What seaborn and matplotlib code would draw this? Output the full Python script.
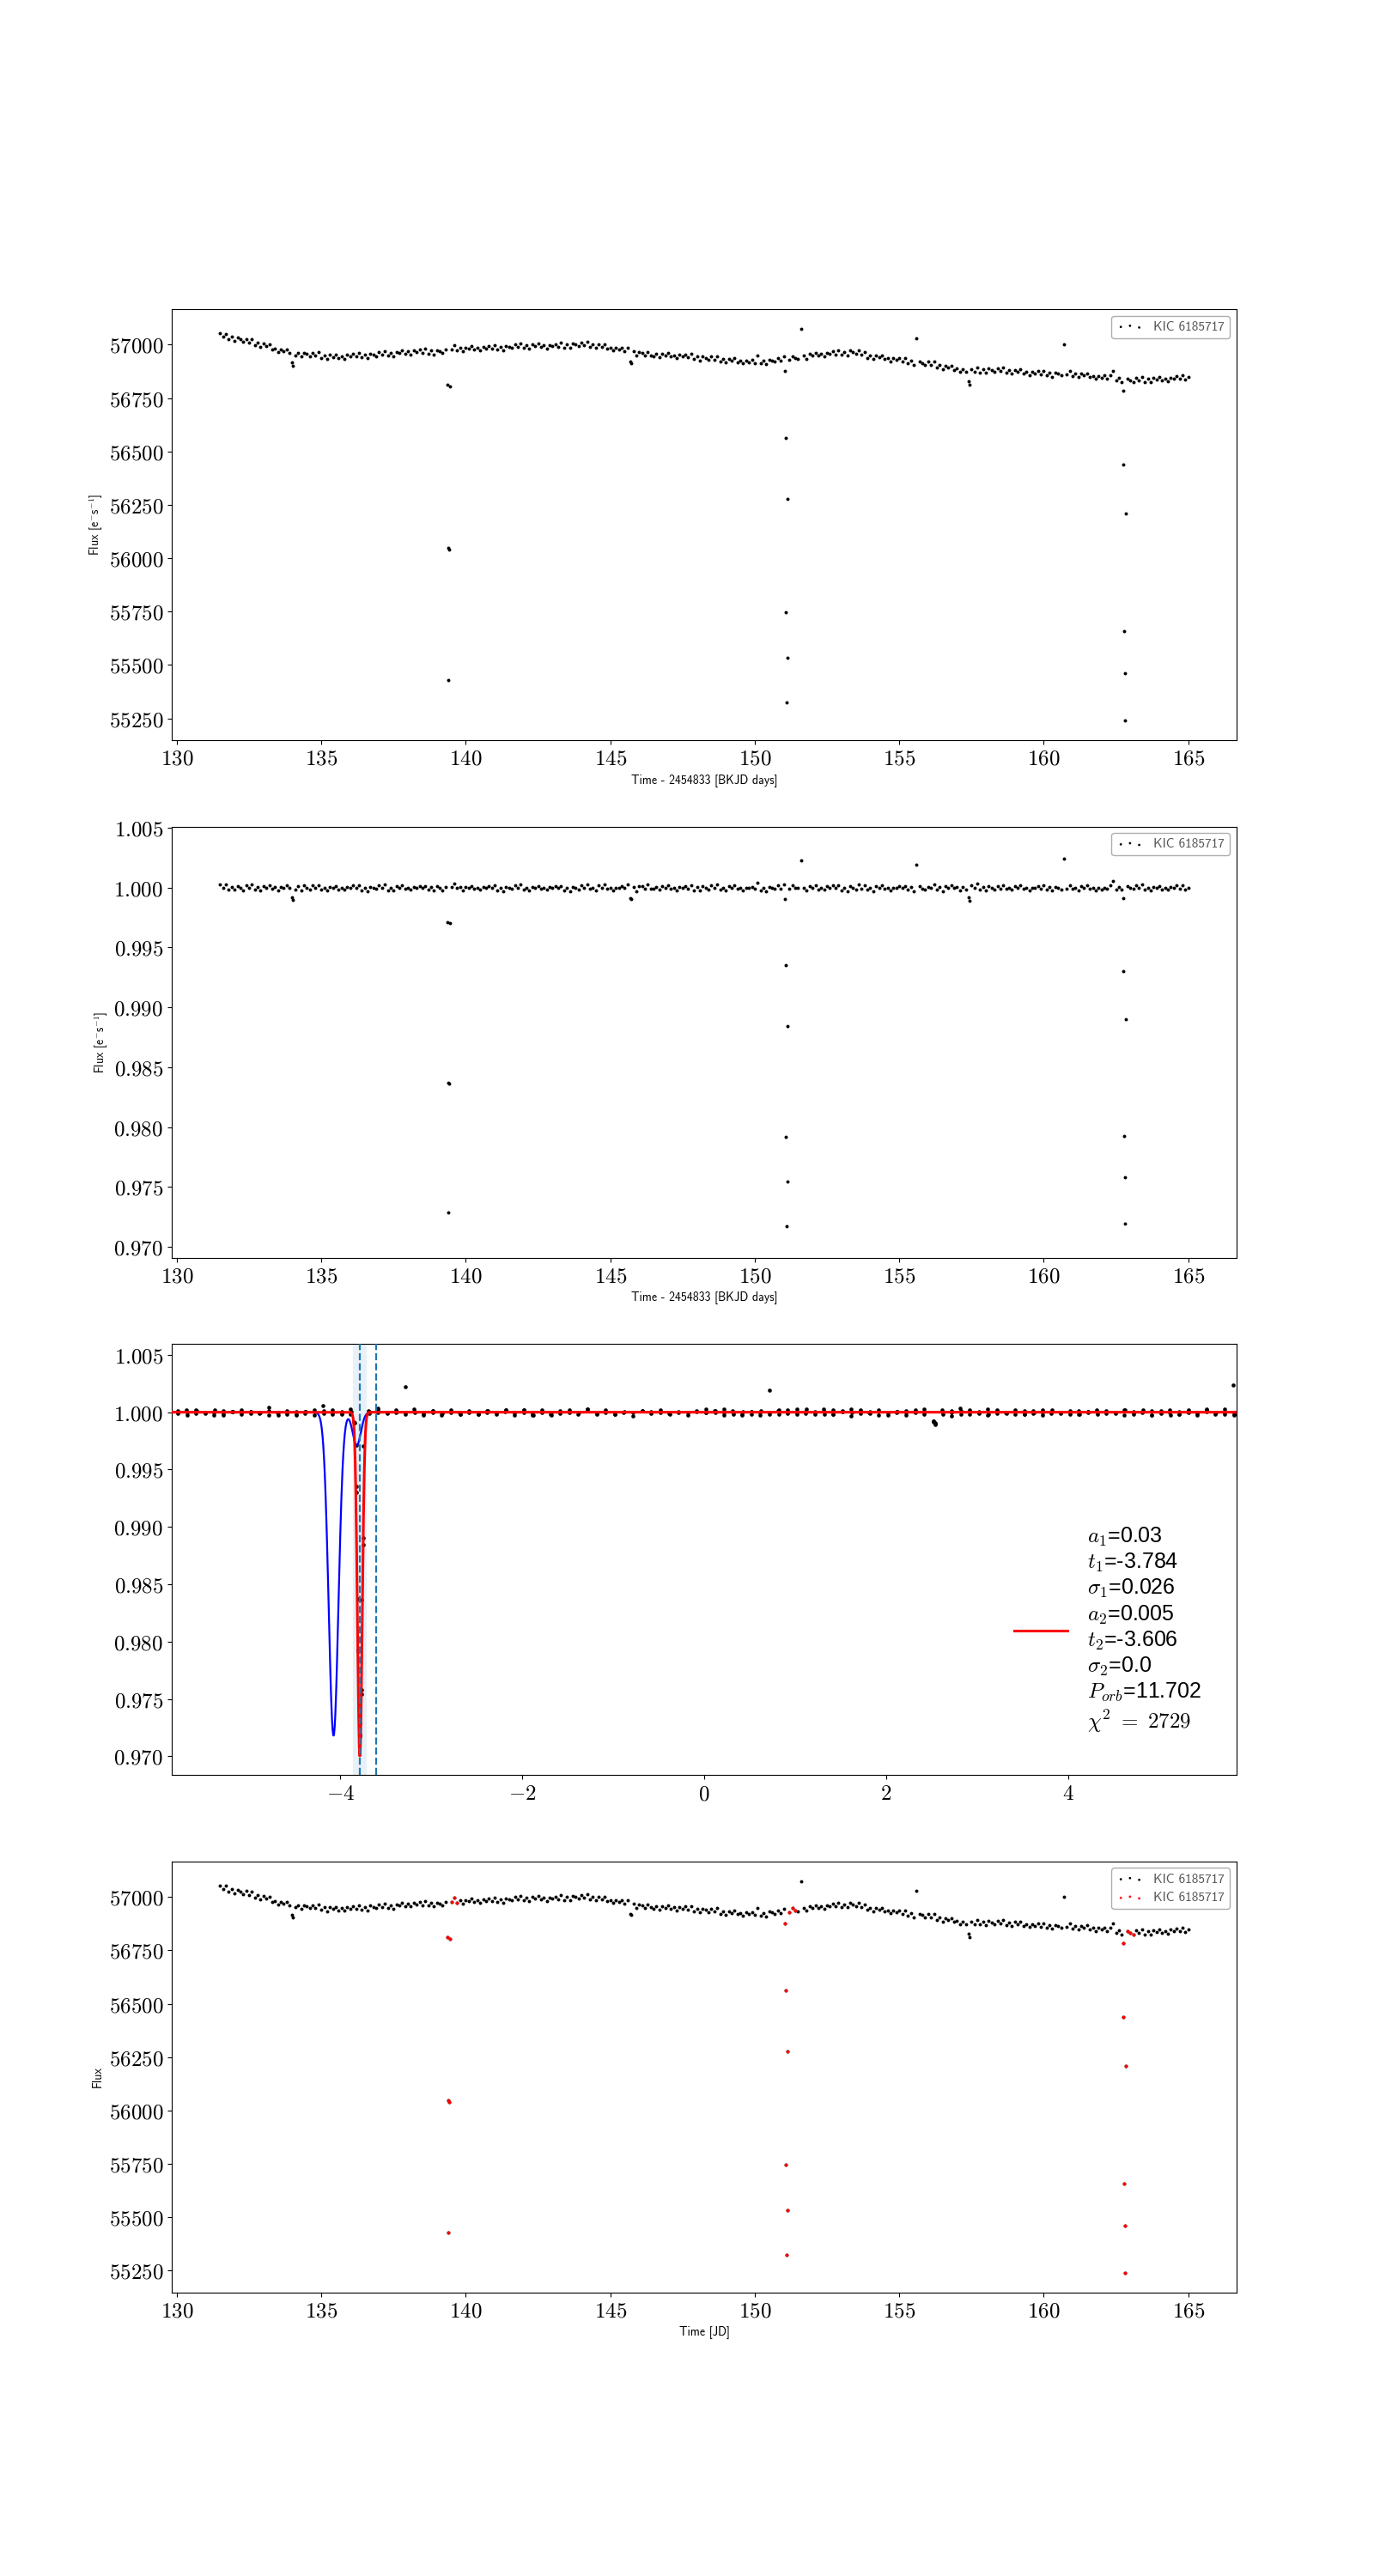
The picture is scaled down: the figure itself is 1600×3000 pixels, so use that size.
import numpy as np
import pandas as pd
import matplotlib
matplotlib.use("Agg")
import matplotlib.pyplot as plt
import seaborn as sns
from matplotlib.ticker import MultipleLocator, FuncFormatter

plt.rcParams['mathtext.fontset'] = 'cm'

TARGET = "KIC 6185717"

# light curve, one value every 0.1 d starting at 131.5
TIME_START = 131.5
CADENCE = 0.1
FLUX = [
    57053, 57037, 57052, 57027, 57038, 57018, 57034, 57026, 57014, 57028,  # 131.5
    57011, 57026, 56998, 57008, 56988, 57004, 56992, 57000, 56978, 56982,  # 132.5
    56965, 56978, 56968, 56976, 56960, 56918, 56951, 56962, 56944, 56962,  # 133.5
    56956, 56947, 56962, 56948, 56964, 56939, 56951, 56934, 56952, 56943,  # 134.5
    56954, 56938, 56947, 56935, 56952, 56946, 56957, 56944, 56962, 56940,  # 135.5
    56954, 56938, 56959, 56954, 56947, 56965, 56953, 56971, 56948, 56961,  # 136.5
    56946, 56967, 56960, 56974, 56958, 56968, 56955, 56972, 56965, 56976,  # 137.5
    56963, 56980, 56959, 56972, 56955, 56975, 56969, 56960, 56976, 55429,  # 138.5
    56976, 56996, 56973, 56985, 56968, 56987, 56980, 56992, 56976, 56984,  # 139.5
    56972, 56989, 56983, 56993, 56981, 56999, 56978, 56991, 56975, 56995,  # 140.5
    56991, 56984, 57001, 56989, 57007, 56984, 56997, 56981, 57001, 56993,  # 141.5
    57005, 56988, 56996, 56983, 56999, 56992, 57003, 56990, 57008, 56986,  # 142.5
    57000, 56984, 57004, 57000, 56992, 57010, 56997, 57014, 56990, 57002,  # 143.5
    56985, 57002, 56991, 57001, 56981, 56987, 56972, 56986, 56978, 56986,  # 144.5
    56971, 56986, 56920, 56969, 56949, 56966, 56960, 56950, 56966, 56951,  # 145.5
    56944, 56956, 56940, 56958, 56950, 56961, 56944, 56951, 56938, 56953,  # 146.5
    56946, 56955, 56941, 56957, 56934, 56946, 56927, 56946, 56939, 56930,  # 147.5
    56945, 56931, 56947, 56922, 56933, 56916, 56934, 56925, 56937, 56919,  # 148.5
    56926, 56912, 56927, 56919, 56929, 56915, 56950, 56912, 56926, 56910,  # 149.5
    56931, 56927, 56920, 56937, 56925, 56944, 55323, 56930, 56947, 56936,  # 150.5
    56933, 57075, 56948, 56935, 56956, 56950, 56963, 56948, 56957, 56946,  # 151.5
    56963, 56957, 56968, 56955, 56973, 56952, 56967, 56951, 56973, 56967,  # 152.5
    56958, 56972, 56954, 56967, 56939, 56949, 56932, 56949, 56940, 56950,  # 153.5
    56932, 56938, 56923, 56938, 56929, 56937, 56922, 56937, 56914, 56925,  # 154.5
    56906, 57031, 56922, 56915, 56905, 56920, 56904, 56920, 56893, 56904,  # 155.5
    56885, 56902, 56892, 56902, 56883, 56889, 56872, 56885, 56874, 56830,  # 156.5
    56886, 56874, 56892, 56871, 56884, 56868, 56888, 56882, 56873, 56890,  # 157.5
    56876, 56893, 56869, 56881, 56865, 56883, 56874, 56885, 56866, 56873,  # 158.5
    56859, 56874, 56866, 56876, 56862, 56878, 56856, 56868, 56851, 56870,  # 159.5
    56865, 56857, 57001, 56860, 56877, 56853, 56865, 56848, 56865, 56856,  # 160.5
    56867, 56849, 56855, 56841, 56855, 56847, 56856, 56842, 56857, 56877,  # 161.5
    56833, 56844, 56825, 55239, 56840, 56834, 56826, 56844, 56831, 56849,  # 162.5
    56826, 56840, 56824, 56844, 56836, 56849, 56833, 56842, 56830, 56847,  # 163.5
    56841, 56852, 56840, 56858, 56836, 56850,                              # 164.5
]

# extra in-dip points between the 0.1 d samples
EXTRA_TIME = [134.02, 139.36, 139.38, 139.42, 139.44, 145.72, 151.04, 151.06, 151.08,
              151.12, 151.14, 157.42, 162.74, 162.76, 162.78, 162.82, 162.84]
EXTRA_FLUX = [56903, 56811, 56048, 56042, 56805, 56915, 56877, 56562, 55746,
              55535, 56276, 56811, 56785, 56438, 55657, 55460, 56209]

# fitted double gaussian (legend values)
A1, T1, SIG1 = 0.03, -3.784, 0.026
A2, T2, SIG2 = 0.005, -3.606, 0.0
P_ORB = 11.702
CHI2 = 2729
EPOCH = 131.48

# starting guess drawn in blue
GUESS_AMP = [0.0282, 0.0029]
GUESS_CEN = [-4.073, -3.818]
GUESS_SIG = [0.053, 0.045]

# phase window flagged red in the last panel
WIN_LO, WIN_HI = -3.85, -3.45

# ---- build the light curve table
grid_time = TIME_START + CADENCE * np.arange(len(FLUX))
grid_flux = np.array(FLUX, dtype=float)
trend = pd.Series(grid_flux).rolling(9, center=True, min_periods=1).median().to_numpy()

lc = pd.DataFrame({
    'time': np.concatenate([grid_time, EXTRA_TIME]),
    'flux': np.concatenate([grid_flux, EXTRA_FLUX]).astype(float),
}).sort_values('time').reset_index(drop=True)
lc['trend'] = np.interp(lc['time'], grid_time, trend)
lc['norm'] = lc['flux'] / lc['trend']
lc['phase'] = (lc['time'] - EPOCH + P_ORB / 2) % P_ORB - P_ORB / 2
in_win = (lc['phase'] > WIN_LO) & (lc['phase'] < WIN_HI)


def gauss(x, a, c, s):
    if s <= 0:
        return np.zeros_like(x)
    return a * np.exp(-(x - c) ** 2 / (2 * s ** 2))


phase_grid = np.linspace(-P_ORB / 2, P_ORB / 2, 4000)
model = 1 - gauss(phase_grid, A1, T1, SIG1) - gauss(phase_grid, A2, T2, SIG2)
guess = 1 - sum(gauss(phase_grid, a, c, s) for a, c, s in zip(GUESS_AMP, GUESS_CEN, GUESS_SIG))


def tex_fmt(fmt):
    def f(v, pos):
        if abs(v) < 1e-9:
            v = 0.0
        return '$' + fmt.format(v) + '$'
    return FuncFormatter(f)


label_font = {'family': 'cmss10', 'size': 10}
leg_prop = {'family': 'cmss10', 'size': 11}
flux_label = 'Flux [e$^{-}$s$^{-1}$]'
dot = 8

fig, (ax1, ax2, ax3, ax4) = plt.subplots(4, 1, figsize=(16, 30))

# panel 1: raw flux
sns.scatterplot(data=lc, x='time', y='flux', ax=ax1, color='k', s=dot, linewidth=0, label=TARGET)
ax1.set_xlabel('Time - 2454833 [BKJD days]', fontdict=label_font)
ax1.set_ylabel(flux_label, fontdict=label_font)
ax1.yaxis.set_major_locator(MultipleLocator(250))
ax1.yaxis.set_major_formatter(tex_fmt('{:.0f}'))

# panel 2: flattened
sns.scatterplot(data=lc, x='time', y='norm', ax=ax2, color='k', s=dot, linewidth=0, label=TARGET)
ax2.set_xlabel('Time - 2454833 [BKJD days]', fontdict=label_font)
ax2.set_ylabel(flux_label, fontdict=label_font)
ax2.set_ylim(0.9691, 1.0051)
ax2.yaxis.set_major_locator(MultipleLocator(0.005))
ax2.yaxis.set_major_formatter(tex_fmt('{:.3f}'))

# panel 3: folded with fit
ax3.axvspan(T1 - 3 * SIG1, T1 + 3 * SIG1, color='tab:blue', alpha=0.1, lw=0, zorder=0)
sns.scatterplot(data=lc, x='phase', y='norm', ax=ax3, color='k', s=11, linewidth=0, zorder=2)
sns.lineplot(x=phase_grid, y=guess, ax=ax3, color='blue', lw=1.6, zorder=3)
fit_label = ('$a_1$=%s\n$t_1$=%s\n$\\sigma_1$=%s\n$a_2$=%s\n$t_2$=%s\n$\\sigma_2$=%s\n'
             '$P_{orb}$=%s\n$\\chi^2\\ =\\ %d$' % (A1, T1, SIG1, A2, T2, SIG2, P_ORB, CHI2))
sns.lineplot(x=phase_grid, y=model, ax=ax3, color='red', lw=2.2, zorder=4, label=fit_label)
ax3.axvline(T1, color='tab:blue', ls='--', lw=1.6, zorder=5)
ax3.axvline(T2, color='tab:blue', ls='--', lw=1.6, zorder=5)
ax3.set_xlim(-P_ORB / 2, P_ORB / 2)
ax3.set_ylim(0.96835, 1.00595)
ax3.set_xlabel('')
ax3.set_ylabel('')
ax3.xaxis.set_major_locator(MultipleLocator(2))
ax3.xaxis.set_major_formatter(tex_fmt('{:.0f}'))
ax3.yaxis.set_major_locator(MultipleLocator(0.005))
ax3.yaxis.set_major_formatter(tex_fmt('{:.3f}'))
ax3.legend(loc='lower right', bbox_to_anchor=(0.985, 0.05), frameon=False,
           prop={'family': 'Liberation Sans', 'size': 18}, handlelength=2.5,
           handletextpad=0.9, labelspacing=0.3)

# panel 4: raw flux with the flagged points
sns.scatterplot(data=lc, x='time', y='flux', ax=ax4, color='k', s=dot, linewidth=0, label=TARGET)
sns.scatterplot(data=lc[in_win], x='time', y='flux', ax=ax4, color='red', s=dot, linewidth=0, label=TARGET)
ax4.set_xlabel('Time [JD]', fontdict=label_font)
ax4.set_ylabel('Flux', fontdict=label_font)
ax4.yaxis.set_major_locator(MultipleLocator(250))
ax4.yaxis.set_major_formatter(tex_fmt('{:.0f}'))

for ax in (ax1, ax2, ax4):
    ax.xaxis.set_major_locator(MultipleLocator(5))
    ax.xaxis.set_major_formatter(tex_fmt('{:.0f}'))
    ax.legend(loc='upper right', prop=leg_prop, labelcolor='#555555', edgecolor='0.6',
              scatterpoints=3, markerscale=0.7)

for ax in (ax1, ax2, ax3, ax4):
    ax.tick_params(labelsize=18)

fig.savefig('out.png', dpi=100)
